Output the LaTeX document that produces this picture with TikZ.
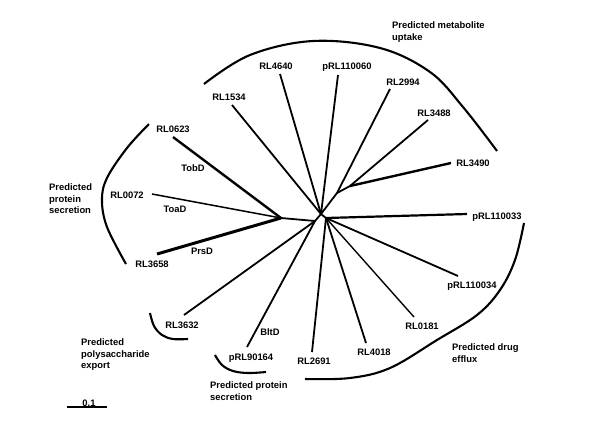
\documentclass[tikz,border=0pt]{standalone}
\usepackage{fontspec}
\setmainfont{Liberation Sans}
\begin{document}
\begin{tikzpicture}[x=1pt,y=-1pt,
    lbl/.style={anchor=base,inner sep=0pt,font=\fontsize{9.4}{11.7}\selectfont\bfseries},
    grp/.style={anchor=north west,inner sep=0pt,align=left,font=\fontsize{9.4}{11.7}\selectfont\bfseries},
    brn/.style={line width=1.8pt},
    bkt/.style={line width=2.1pt}]
    \useasboundingbox (0,0) rectangle (600,424);
    \coordinate (c) at (321,214);
    \coordinate (a) at (281,218);
    \coordinate (b) at (315,221);
    \coordinate (e) at (326,218);
    \coordinate (d) at (337,193);
    \coordinate (f) at (350,186);
    \coordinate (t0623) at (173,137);
    \coordinate (t0072) at (152,194);
    \coordinate (t3658) at (157,254);
    \coordinate (t3632) at (184,315);
    \coordinate (t90164) at (247,347);
    \coordinate (t2691) at (312,352);
    \coordinate (t4018) at (366,343);
    \coordinate (t0181) at (414,317);
    \coordinate (t034) at (458,276);
    \coordinate (t033) at (467,214);
    \coordinate (t1534) at (232,105);
    \coordinate (t4640) at (280,74);
    \coordinate (t060) at (338,75);
    \coordinate (t2994) at (390,89);
    \coordinate (t3488) at (428,120);
    \coordinate (t3490) at (451,163);
    \coordinate (s1) at (67,407);
    \coordinate (s2) at (107,407);
    \node[lbl] (l0623) at (173,132.5) {RL0623};
    \node[lbl] (ltobd) at (193,171.5) {TobD};
    \node[lbl] (l0072) at (127,198.5) {RL0072};
    \node[lbl] (ltoad) at (175,212.5) {ToaD};
    \node[lbl] (l3658) at (152,267.5) {RL3658};
    \node[lbl] (lprsd) at (202,254.5) {PrsD};
    \node[lbl] (l3632) at (182,328.5) {RL3632};
    \node[lbl] (lbltd) at (270,335.5) {BltD};
    \node[lbl] (l90164) at (251,360.5) {pRL90164};
    \node[lbl] (l2691) at (314,364.5) {RL2691};
    \node[lbl] (l4018) at (374,355.5) {RL4018};
    \node[lbl] (l0181) at (422,329.5) {RL0181};
    \node[lbl] (l034) at (472,288.5) {pRL110034};
    \node[lbl] (l033) at (497,219.5) {pRL110033};
    \node[lbl] (l3490) at (473,166.5) {RL3490};
    \node[lbl] (l3488) at (434,116.5) {RL3488};
    \node[lbl] (l2994) at (403,85.5) {RL2994};
    \node[lbl] (l060) at (347,69.5) {pRL110060};
    \node[lbl] (l4640) at (276,69.5) {RL4640};
    \node[lbl] (l1534) at (229,100.5) {RL1534};
    \node[lbl] (lscale) at (89,406) {0.1};
    \node[grp] (gup) at (392,21.5) {Predicted metabolite\\uptake};
    \node[grp] (gsec) at (49,183.5) {Predicted\\protein\\secretion};
    \node[grp] (gpol) at (81,338.5) {Predicted\\polysaccharide\\export};
    \node[grp] (gsec2) at (210,381.5) {Predicted protein\\secretion};
    \node[grp] (gdrug) at (452,343.5) {Predicted drug\\efflux};
    \draw [brn] (a) -- (b) -- (c) -- (e);
    \draw [brn,line width=2.4pt] (t0623) -- (a);
    \draw [brn,line width=1.5pt] (t0072) -- (a);
    \draw [brn,line width=3pt] (t3658) -- (a);
    \draw [brn] (t3632) -- (b);
    \draw [brn] (t90164) -- (b);
    \draw [brn] (t2691) -- (e);
    \draw [brn] (t4018) -- (e);
    \draw [brn,line width=1.4pt] (t0181) -- (e);
    \draw [brn] (t034) -- (e);
    \draw [brn,line width=2.2pt] (t033) -- (e);
    \draw [brn] (t1534) -- (c);
    \draw [brn] (t4640) -- (c);
    \draw [brn] (t060) -- (c);
    \draw [brn] (c) -- (d) -- (t2994);
    \draw [brn] (d) -- (f) -- (t3488);
    \draw [brn,line width=2.4pt] (f) -- (t3490);
    \draw [brn,line width=1.4pt] (s1) -- (s2);
    \draw [bkt] plot[smooth,tension=0.6] coordinates {(204,84) (250,55) (313,41) (380,48) (430,72) (463,107) (497,151)};
    \draw [bkt] plot[smooth,tension=0.6] coordinates {(149,124) (127,148) (107,178) (102,200) (107,227) (126,264)};
    \draw [bkt] plot[smooth,tension=0.6] coordinates {(150,313) (154,326) (162,335) (173,339) (188,339)};
    \draw [bkt] plot[smooth,tension=0.6] coordinates {(215,355) (222,365) (233,371) (248,373) (266,372)};
    \draw [bkt] plot[smooth,tension=0.6] coordinates {(524,223) (515,260) (500,290) (477,315) (437,340) (390,368) (350,378) (305,379)};
\end{tikzpicture}
\end{document}
